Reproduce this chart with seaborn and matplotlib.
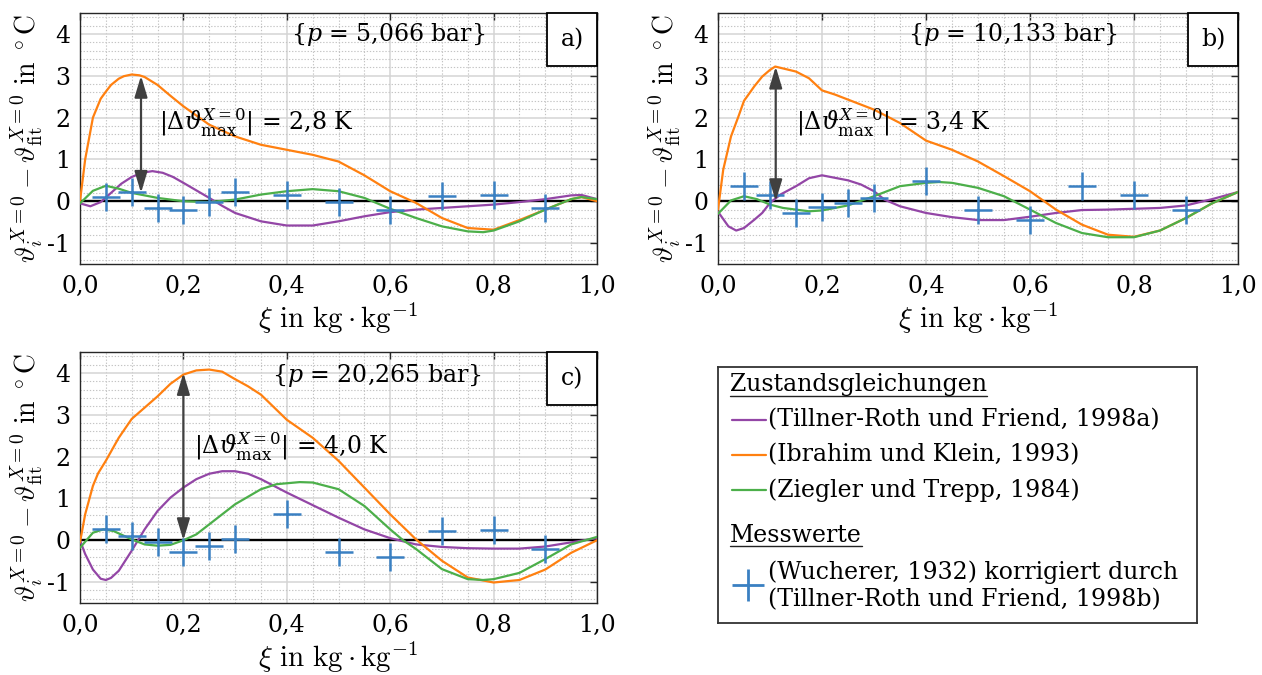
import numpy as np
import pandas as pd
import matplotlib
matplotlib.use("Agg")
import matplotlib.pyplot as plt
import seaborn as sns
from matplotlib.patches import Rectangle
from matplotlib.ticker import MultipleLocator

# ---------------- data ----------------
models = ["(Tillner-Roth und Friend, 1998a)", "(Ibrahim und Klein, 1993)", "(Ziegler und Trepp, 1984)"]
meas_label_1 = "(Wucherer, 1932) korrigiert durch"
meas_label_2 = "(Tillner-Roth und Friend, 1998b)"

xticks = [0.0, 0.2, 0.4, 0.6, 0.8, 1.0]
xtick_labels = ["0,0", "0,2", "0,4", "0,6", "0,8", "1,0"]
yticks = [-1, 0, 1, 2, 3, 4]
ytick_labels = ["-1", "0", "1", "2", "3", "4"]

xi_meas = [0.05, 0.1, 0.15, 0.2, 0.25, 0.3, 0.4, 0.5, 0.6, 0.7, 0.8, 0.9]

# panel a) p = 5,066 bar
xi_a_tr = [0, 0.02, 0.04, 0.06, 0.08, 0.1, 0.12, 0.14, 0.16, 0.18, 0.2, 0.225, 0.25, 0.275, 0.3, 0.35, 0.4, 0.45, 0.5, 0.55, 0.6, 0.65, 0.7, 0.75, 0.8, 0.85, 0.9, 0.95, 0.97, 1.0]
dev_a_tr = [-0.05, -0.12, -0.02, 0.2, 0.42, 0.58, 0.68, 0.72, 0.68, 0.58, 0.44, 0.26, 0.08, -0.11, -0.28, -0.48, -0.58, -0.58, -0.48, -0.36, -0.26, -0.2, -0.16, -0.12, -0.08, -0.02, 0.05, 0.14, 0.15, 0.05]
xi_a_ik = [0, 0.01, 0.025, 0.04, 0.05, 0.06, 0.075, 0.085, 0.1, 0.115, 0.125, 0.15, 0.175, 0.2, 0.25, 0.3, 0.35, 0.4, 0.45, 0.5, 0.55, 0.6, 0.65, 0.7, 0.75, 0.8, 0.85, 0.9, 0.95, 0.97, 1.0]
dev_a_ik = [0.0, 1.0, 2.0, 2.45, 2.62, 2.78, 2.93, 2.99, 3.03, 3.01, 2.97, 2.78, 2.52, 2.27, 1.83, 1.55, 1.35, 1.23, 1.11, 0.95, 0.62, 0.24, -0.04, -0.4, -0.64, -0.68, -0.45, -0.2, 0.05, 0.1, 0.0]
xi_a_zt = [0, 0.025, 0.05, 0.075, 0.1, 0.15, 0.2, 0.25, 0.3, 0.35, 0.4, 0.45, 0.5, 0.55, 0.6, 0.65, 0.7, 0.75, 0.78, 0.8, 0.85, 0.9, 0.95, 0.97, 1.0]
dev_a_zt = [-0.05, 0.25, 0.37, 0.3, 0.2, 0.08, 0.0, -0.02, 0.04, 0.16, 0.24, 0.29, 0.24, 0.08, -0.18, -0.4, -0.6, -0.72, -0.74, -0.7, -0.48, -0.2, 0.05, 0.1, 0.05]
meas_a = [0.1, 0.21, -0.16, -0.22, -0.02, 0.21, 0.14, -0.02, -0.22, 0.12, 0.14, -0.15]

# panel b) p = 10,133 bar
xi_b_tr = [0, 0.02, 0.035, 0.05, 0.07, 0.085, 0.1, 0.12, 0.15, 0.175, 0.2, 0.225, 0.25, 0.275, 0.3, 0.32, 0.35, 0.4, 0.45, 0.5, 0.55, 0.6, 0.65, 0.7, 0.75, 0.8, 0.85, 0.9, 0.95, 1.0]
dev_b_tr = [-0.25, -0.6, -0.7, -0.64, -0.44, -0.28, -0.04, 0.16, 0.36, 0.55, 0.62, 0.56, 0.5, 0.4, 0.24, 0.04, -0.12, -0.28, -0.38, -0.45, -0.45, -0.37, -0.28, -0.21, -0.2, -0.18, -0.16, -0.1, 0.05, 0.22]
xi_b_ik = [0, 0.01, 0.025, 0.04, 0.05, 0.07, 0.085, 0.1, 0.11, 0.13, 0.15, 0.175, 0.2, 0.225, 0.25, 0.3, 0.35, 0.4, 0.45, 0.5, 0.55, 0.6, 0.65, 0.7, 0.75, 0.8, 0.85, 0.9, 0.95, 1.0]
dev_b_ik = [-0.2, 0.75, 1.55, 2.05, 2.4, 2.75, 2.98, 3.14, 3.22, 3.16, 3.1, 2.94, 2.65, 2.55, 2.43, 2.19, 1.87, 1.45, 1.23, 0.95, 0.6, 0.24, -0.2, -0.56, -0.8, -0.85, -0.7, -0.4, -0.05, 0.22]
xi_b_zt = [0, 0.025, 0.05, 0.075, 0.1, 0.125, 0.15, 0.175, 0.2, 0.25, 0.3, 0.35, 0.4, 0.425, 0.45, 0.5, 0.55, 0.6, 0.65, 0.7, 0.75, 0.8, 0.85, 0.9, 0.95, 1.0]
dev_b_zt = [-0.3, 0.02, 0.12, 0.05, -0.08, -0.16, -0.2, -0.24, -0.22, -0.1, 0.12, 0.36, 0.44, 0.46, 0.44, 0.32, 0.12, -0.2, -0.52, -0.76, -0.86, -0.86, -0.7, -0.4, -0.05, 0.22]
meas_b = [0.36, 0.14, -0.29, -0.14, -0.04, 0.08, 0.48, -0.2, -0.44, 0.36, 0.14, -0.2]

# panel c) p = 20,265 bar
xi_c_tr = [0, 0.01, 0.025, 0.04, 0.05, 0.06, 0.075, 0.1, 0.125, 0.15, 0.175, 0.2, 0.225, 0.25, 0.275, 0.3, 0.325, 0.35, 0.375, 0.4, 0.45, 0.5, 0.55, 0.6, 0.65, 0.7, 0.75, 0.8, 0.85, 0.9, 0.95, 1.0]
dev_c_tr = [0.0, -0.33, -0.7, -0.92, -0.95, -0.9, -0.73, -0.25, 0.26, 0.7, 1.02, 1.26, 1.46, 1.59, 1.65, 1.65, 1.59, 1.46, 1.3, 1.14, 0.84, 0.54, 0.26, 0.05, -0.1, -0.16, -0.19, -0.2, -0.2, -0.15, -0.05, 0.05]
xi_c_ik = [0, 0.01, 0.025, 0.035, 0.05, 0.075, 0.1, 0.125, 0.15, 0.175, 0.2, 0.225, 0.25, 0.275, 0.3, 0.325, 0.35, 0.375, 0.4, 0.45, 0.5, 0.55, 0.6, 0.65, 0.7, 0.75, 0.8, 0.85, 0.9, 0.95, 1.0]
dev_c_ik = [-0.05, 0.62, 1.3, 1.6, 1.9, 2.45, 2.9, 3.17, 3.44, 3.74, 3.96, 4.06, 4.08, 4.03, 3.85, 3.68, 3.48, 3.18, 2.88, 2.45, 1.9, 1.26, 0.62, 0.02, -0.49, -0.89, -1.01, -0.95, -0.7, -0.3, 0.0]
xi_c_zt = [0, 0.025, 0.045, 0.065, 0.1, 0.125, 0.15, 0.175, 0.2, 0.225, 0.25, 0.3, 0.35, 0.38, 0.425, 0.45, 0.5, 0.55, 0.6, 0.625, 0.65, 0.7, 0.75, 0.78, 0.8, 0.85, 0.9, 0.95, 1.0]
dev_c_zt = [-0.18, 0.18, 0.26, 0.22, 0.02, -0.1, -0.13, -0.11, 0.0, 0.14, 0.38, 0.86, 1.22, 1.34, 1.39, 1.38, 1.22, 0.82, 0.26, 0.0, -0.21, -0.69, -0.93, -0.95, -0.93, -0.78, -0.45, -0.1, 0.08]
meas_c = [0.26, 0.1, -0.03, -0.29, -0.14, 0.04, 0.62, -0.29, -0.4, 0.22, 0.24, -0.22]

pressure_texts = ["{$p$ = 5,066 bar}", "{$p$ = 10,133 bar}", "{$p$ = 20,265 bar}"]
delta_values = ["2,8", "3,4", "4,0"]
panel_tags = ["a)", "b)", "c)"]

# ---------------- style ----------------
sns.set_theme(style="white")
plt.rcParams['font.family'] = ['DejaVu Serif']
plt.rcParams['mathtext.fontset'] = 'dejavuserif'
plt.rcParams['text.color'] = 'black'
plt.rcParams['axes.labelcolor'] = 'black'
plt.rcParams['xtick.color'] = 'black'
plt.rcParams['ytick.color'] = 'black'

colors = {models[0]: "#9346a6", models[1]: "#ff8010", models[2]: "#4caf4a"}
blue = "#3a80c2"
FS = 17

W, H = 1262, 675
fig = plt.figure(figsize=(W / 100, H / 100), dpi=100)
fig.patch.set_facecolor("white")


def fig_rect(l, t, r, b):
    return [l / W, (H - b) / H, (r - l) / W, (b - t) / H]


def draw_panel(rect, curves, meas, ptext, pos_ptext, arrow, dtext_pos, dval, tag):
    ax = fig.add_axes(rect)
    frames = [pd.DataFrame({"xi": x, "dev": y, "model": m}) for m, (x, y) in zip(models, curves)]
    df = pd.concat(frames, ignore_index=True)
    ax.axhline(0, color="black", lw=1.7, zorder=2.5)
    sns.lineplot(data=df, x="xi", y="dev", hue="model", hue_order=models, palette=colors,
                 estimator=None, sort=False, lw=1.6, legend=False, ax=ax, zorder=3)
    sns.scatterplot(x=xi_meas, y=meas, marker="+", s=430, color=blue, linewidth=1.8,
                    ax=ax, zorder=4, legend=False)
    ax.set_xlim(0, 1)
    ax.set_ylim(-1.5, 4.5)
    ax.set_xticks(xticks)
    ax.set_xticklabels(xtick_labels)
    ax.set_yticks(yticks)
    ax.set_yticklabels(ytick_labels)
    ax.xaxis.set_minor_locator(MultipleLocator(0.05))
    ax.yaxis.set_minor_locator(MultipleLocator(0.2))
    ax.set_axisbelow(True)
    ax.grid(which="major", color="#d4d4d4", lw=1.1, ls="-")
    ax.grid(which="minor", color="#c4c4c4", lw=0.8, ls=(0, (1.2, 1.6)))
    ax.tick_params(which="major", direction="in", length=5, width=1, color="#262626",
                   top=True, right=True, labelsize=FS, pad=8, labelcolor="black")
    ax.tick_params(axis="y", which="major", pad=7)
    ax.tick_params(which="minor", length=0)
    for s in ax.spines.values():
        s.set_color("#262626")
        s.set_linewidth(1.0)
    ax.set_xlabel(r"$\xi\ \mathrm{in}\ \mathrm{kg}\cdot\mathrm{kg}^{-1}$", fontsize=21,
                  math_fontfamily="cm", va="top")
    ax.xaxis.set_label_coords(0.5, -0.145)
    ax.set_ylabel(r"$\vartheta_i^{X=0} - \vartheta_{\mathrm{fit}}^{X=0}\ \mathrm{in}\ ^\circ\mathrm{C}$",
                  fontsize=20, math_fontfamily="cm")
    ax.yaxis.set_label_coords(-0.068, 0.5)
    # pressure text
    ax.text(pos_ptext[0], pos_ptext[1], ptext, fontsize=FS, ha="center", va="center", zorder=6)
    # double arrow
    ax.annotate("", xy=(arrow[0], arrow[1]), xytext=(arrow[0], arrow[2]),
                arrowprops=dict(arrowstyle="<|-|>,head_length=1.0,head_width=0.3",
                                mutation_scale=13, color="#404040", lw=1.6,
                                shrinkA=0, shrinkB=0), zorder=5)
    ax.text(dtext_pos[0], dtext_pos[1],
            r"$|\Delta\vartheta_{\mathrm{max}}^{X=0}|$ = " + dval + " K",
            fontsize=FS, ha="left", va="center", zorder=6)
    # tag box
    bw, bh = 50 / (rect[2] * W), 53 / (rect[3] * H)
    ax.add_patch(Rectangle((1 - bw, 1 - bh), bw, bh, transform=ax.transAxes,
                           facecolor="white", edgecolor="black", lw=1.3, zorder=7, clip_on=False))
    ax.text(1 - bw / 2, 1 - bh / 2, tag, transform=ax.transAxes, fontsize=FS,
            ha="center", va="center", zorder=8)
    return ax


draw_panel(fig_rect(80, 13, 597, 264),
           [(xi_a_tr, dev_a_tr), (xi_a_ik, dev_a_ik), (xi_a_zt, dev_a_zt)], meas_a,
           pressure_texts[0], (0.597, 3.98), (0.118, 3.0, 0.2), (0.153, 1.9), delta_values[0], panel_tags[0])
draw_panel(fig_rect(718, 13, 1238, 264),
           [(xi_b_tr, dev_b_tr), (xi_b_ik, dev_b_ik), (xi_b_zt, dev_b_zt)], meas_b,
           pressure_texts[1], (0.568, 3.98), (0.111, 3.22, 0.0), (0.15, 1.9), delta_values[1], panel_tags[1])
draw_panel(fig_rect(80, 352, 597, 603),
           [(xi_c_tr, dev_c_tr), (xi_c_ik, dev_c_ik), (xi_c_zt, dev_c_zt)], meas_c,
           pressure_texts[2], (0.575, 3.93), (0.2, 4.0, 0.0), (0.221, 2.25), delta_values[2], panel_tags[2])

# ---------------- legend box ----------------
L, T, R, B = 718, 367, 1197, 623
lax = fig.add_axes(fig_rect(L, T, R, B))
lax.set_xlim(0, R - L)
lax.set_ylim(B - T, 0)
lax.set_xticks([])
lax.set_yticks([])
lax.set_facecolor("white")
for s in lax.spines.values():
    s.set_color("#333333")
    s.set_linewidth(1.3)

h1 = lax.text(12, 18, "Zustandsgleichungen", fontsize=FS, ha="left", va="center")
for i, m in enumerate(models):
    yy = 53 + 35 * i
    lax.plot([14, 48], [yy, yy], color=colors[m], lw=1.6)
    lax.text(50, yy, m, fontsize=FS, ha="left", va="center")
h2 = lax.text(12, 168, "Messwerte", fontsize=FS, ha="left", va="center")
lax.plot([30], [218], marker="+", ms=23, mew=2.0, color=blue, ls="none")
lax.text(50, 205, meas_label_1, fontsize=FS, ha="left", va="center")
lax.text(50, 233, meas_label_2, fontsize=FS, ha="left", va="center")

fig.canvas.draw()
inv = lax.transData.inverted()
for h in (h1, h2):
    bb = h.get_window_extent()
    (x0, y0), (x1, y1) = inv.transform([(bb.x0, bb.y0), (bb.x1, bb.y1)])
    lax.plot([x0, x1], [y0 - 1, y0 - 1], color="#222222", lw=1.0)

fig.savefig("out.png", dpi=100, facecolor="white")
